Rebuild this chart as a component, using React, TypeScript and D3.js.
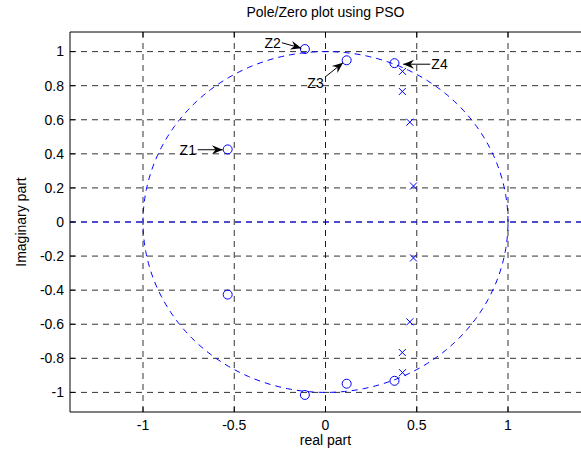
import React from "react";
import * as d3 from "d3";

const zerosRe = [-0.536, -0.536, -0.113, -0.113, 0.116, 0.116, 0.378, 0.378];
const zerosIm = [0.426, -0.426, 1.015, -1.015, 0.949, -0.949, 0.932, -0.932];
const polesRe = [0.422, 0.422, 0.421, 0.421, 0.462, 0.462, 0.482, 0.482];
const polesIm = [0.884, -0.884, 0.766, -0.766, 0.586, -0.586, 0.211, -0.211];

const xTicks = [-1, -0.5, 0, 0.5, 1];
const yTicks = [-1, -0.8, -0.6, -0.4, -0.2, 0, 0.2, 0.4, 0.6, 0.8, 1];

const annLabels = ["Z1", "Z2", "Z3", "Z4"];
const annTailRe = [-0.70, -0.239, 0.003, 0.574];
const annTailIm = [0.424, 1.052, 0.855, 0.926];
const annHeadRe = [-0.563, -0.132, 0.096, 0.426];
const annHeadIm = [0.424, 1.020, 0.935, 0.926];
const annTextRe = [-0.71, -0.245, -0.01, 0.58];
const annTextIm = [0.424, 1.052, 0.815, 0.926];
const annAnchor = ["end", "end", "end", "start"];

const W = 581;
const H = 452;
const left = 70, right = 581, top = 32, bottom = 412;
const font = "Liberation Sans, Arial, sans-serif";

export default function App() {
  const x = d3.scaleLinear().domain([-1.4, 1.4]).range([left, right]);
  const y = d3.scaleLinear().domain([-1.115, 1.115]).range([bottom, top]);

  const circle = d3.range(0, 361).map((a) => [Math.cos((a * Math.PI) / 180), Math.sin((a * Math.PI) / 180)]);
  const circlePath = d3.line().x((d: any) => x(d[0])).y((d: any) => y(d[1]))(circle as any);

  const dash = "6,5";
  const gridColor = "#333";

  return (
    <svg width={W} height={H} style={{ position: "absolute", left: 0, top: 0, background: "#fff" }} fontFamily={font}>
      <rect x={0} y={0} width={W} height={H} fill="#fff" />
      <defs>
        <clipPath id="plotclip">
          <rect x={left} y={top} width={right - left} height={bottom - top} />
        </clipPath>
        <marker id="arrowhead" viewBox="0 0 12 10" refX={12} refY={5} markerWidth={12} markerHeight={9} markerUnits="userSpaceOnUse" orient="auto">
          <path d="M0,0 L12,5 L0,10 L4,5 Z" fill="#000" />
        </marker>
      </defs>
      {/* grid */}
      {xTicks.map((t) => (
        <line key={"gx" + t} x1={x(t)} x2={x(t)} y1={top} y2={bottom} stroke={gridColor} strokeWidth={1} strokeDasharray={dash} />
      ))}
      {yTicks.map((t) => (
        <line key={"gy" + t} x1={left} x2={right} y1={y(t)} y2={y(t)} stroke={gridColor} strokeWidth={1} strokeDasharray={dash} />
      ))}
      <g clipPath="url(#plotclip)">
        {/* blue axes lines */}
        <line x1={left} x2={right} y1={y(0)} y2={y(0)} stroke="#0000ff" strokeWidth={1} strokeDasharray={dash} />
        <line x1={x(0)} x2={x(0)} y1={top} y2={bottom} stroke="#0000ff" strokeWidth={1} strokeDasharray={dash} />
        {/* unit circle */}
        <path d={circlePath || ""} fill="none" stroke="#0000ff" strokeWidth={1} strokeDasharray={dash} />
        {/* zeros */}
        {zerosRe.map((r, i) => (
          <circle key={"z" + i} cx={x(r)} cy={y(zerosIm[i])} r={4.5} fill="none" stroke="#0000ff" strokeWidth={1} />
        ))}
        {/* poles */}
        {polesRe.map((r, i) => {
          const cx = x(r), cy = y(polesIm[i]), s = 3.5;
          return (
            <g key={"p" + i} stroke="#0000ff" strokeWidth={1}>
              <line x1={cx - s} y1={cy - s} x2={cx + s} y2={cy + s} />
              <line x1={cx - s} y1={cy + s} x2={cx + s} y2={cy - s} />
            </g>
          );
        })}
      </g>
      {/* axes box */}
      <line x1={left} x2={right} y1={top} y2={top} stroke="#000" strokeWidth={1} />
      <line x1={left} x2={right} y1={bottom} y2={bottom} stroke="#000" strokeWidth={1} />
      <line x1={left} x2={left} y1={top} y2={bottom} stroke="#000" strokeWidth={1} />
      {/* ticks */}
      {xTicks.map((t) => (
        <g key={"tx" + t}>
          <line x1={x(t)} x2={x(t)} y1={bottom} y2={bottom - 5} stroke="#000" />
          <line x1={x(t)} x2={x(t)} y1={top} y2={top + 5} stroke="#000" />
          <text x={x(t)} y={bottom + 18} fontSize={14} textAnchor="middle" fill="#000">{String(t)}</text>
        </g>
      ))}
      {yTicks.map((t) => (
        <g key={"ty" + t}>
          <line x1={left} x2={left + 5} y1={y(t)} y2={y(t)} stroke="#000" />
          <text x={left - 6} y={y(t)} dy="0.35em" fontSize={14} textAnchor="end" fill="#000">{String(t)}</text>
        </g>
      ))}
      {/* annotations */}
      {annLabels.map((lab, i) => (
        <g key={"a" + i}>
          <line x1={x(annTailRe[i])} y1={y(annTailIm[i])} x2={x(annHeadRe[i])} y2={y(annHeadIm[i])} stroke="#000" strokeWidth={1} markerEnd="url(#arrowhead)" />
          <text x={x(annTextRe[i])} y={y(annTextIm[i])} dy="0.35em" fontSize={14} textAnchor={annAnchor[i] as any} fill="#000">{lab}</text>
        </g>
      ))}
      {/* labels */}
      <text x={x(0)} y={17} fontSize={14} textAnchor="middle" fill="#000">Pole/Zero plot using PSO</text>
      <text x={x(0)} y={445} fontSize={14} textAnchor="middle" fill="#000">real part</text>
      <text transform={`translate(26,${y(0)}) rotate(-90)`} fontSize={14} textAnchor="middle" fill="#000">Imaginary part</text>
    </svg>
  );
}
